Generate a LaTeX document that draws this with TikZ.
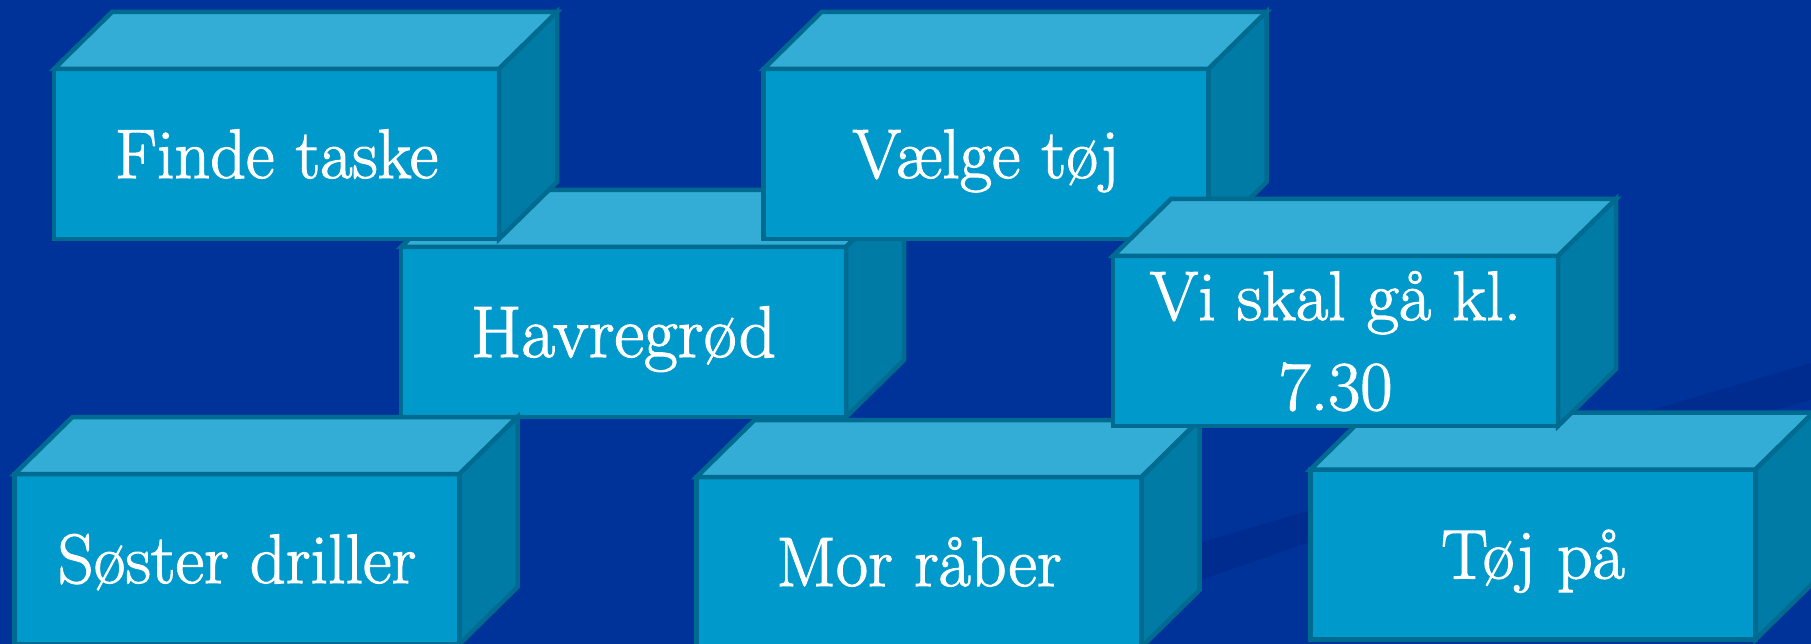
\documentclass[tikz,border=0pt]{standalone}
\usepackage{fontspec}
\newfontfamily\garfont{Latin Modern Roman}[RawFeature={embolden=1.6}]
\usetikzlibrary{calc}

\definecolor{bg}{HTML}{003399}
\definecolor{band}{HTML}{002C90}
\definecolor{facefront}{HTML}{0099CC}
\definecolor{facetop}{HTML}{33ACD6}
\definecolor{faceside}{HTML}{007BA6}
\definecolor{edge}{HTML}{006B91}

\tikzset{
  x=1pt, y=-1pt,
  front/.style={draw=edge, line width=4.5pt, fill=facefront,
    minimum width=445pt, minimum height=170pt, inner sep=0pt, outer sep=0pt},
  topface/.style={draw=edge, line width=4.5pt, fill=facetop},
  sideface/.style={draw=edge, line width=4.5pt, fill=faceside},
  boxlabel/.style={text=white, inner sep=0pt, anchor=base,
    font=\garfont\fontsize{70}{84}\selectfont},
  biglabel/.style={boxlabel, font=\garfont\fontsize{73}{88}\selectfont},
}

% a box: front face as a node, with its top and right faces
\newcommand\cuboid[3]{%
  \node[front] (#1) at (#2,#3) {};
  \draw[topface] (#1.north west) -- ++(58,-57) -- ++(445,0) -- (#1.north east) -- cycle;
  \draw[sideface] (#1.north east) -- ++(58,-57) -- ++(0,170) -- (#1.south east) -- cycle;
}

\begin{document}
\begin{tikzpicture}
  \useasboundingbox (0,0) rectangle (1811,644);
  \fill[bg] (0,0) rectangle (1811,644);
  % darker swoosh across the lower right
  \fill[band] (1100,572) -- (1811,363) -- (1811,400) -- (1307,543) -- (1100,615) -- cycle;

  \cuboid{B}{623.5}{332}
  \node[biglabel] (B-text) at ($(B.center)+(0,25)$) {Havregrød};

  \cuboid{A}{276.5}{154}
  \node[boxlabel] (A-text) at ($(A.center)+(0,24)$) {Finde taske};

  \cuboid{C}{986}{154}
  \node[boxlabel] (C-text) at ($(C.center)+(0,24)$) {Vælge tøj};

  \cuboid{E}{237}{559}
  \node[boxlabel] (E-text) at ($(E.center)+(0,24)$) {Søster driller};

  \cuboid{F}{919}{562}
  \node[boxlabel] (F-text) at ($(F.center)+(0,24)$) {Mor råber};

  \cuboid{G}{1533}{554.5}
  \node[boxlabel] (G-text) at ($(G.center)+(0,24)$) {Tøj på};

  \cuboid{D}{1335.5}{341}
  \node[boxlabel] (D-text1) at ($(D.center)+(0,-21)$) {Vi skal gå kl.};
  \node[boxlabel] (D-text2) at ($(D.center)+(0,69)$) {7.30};
\end{tikzpicture}
\end{document}
